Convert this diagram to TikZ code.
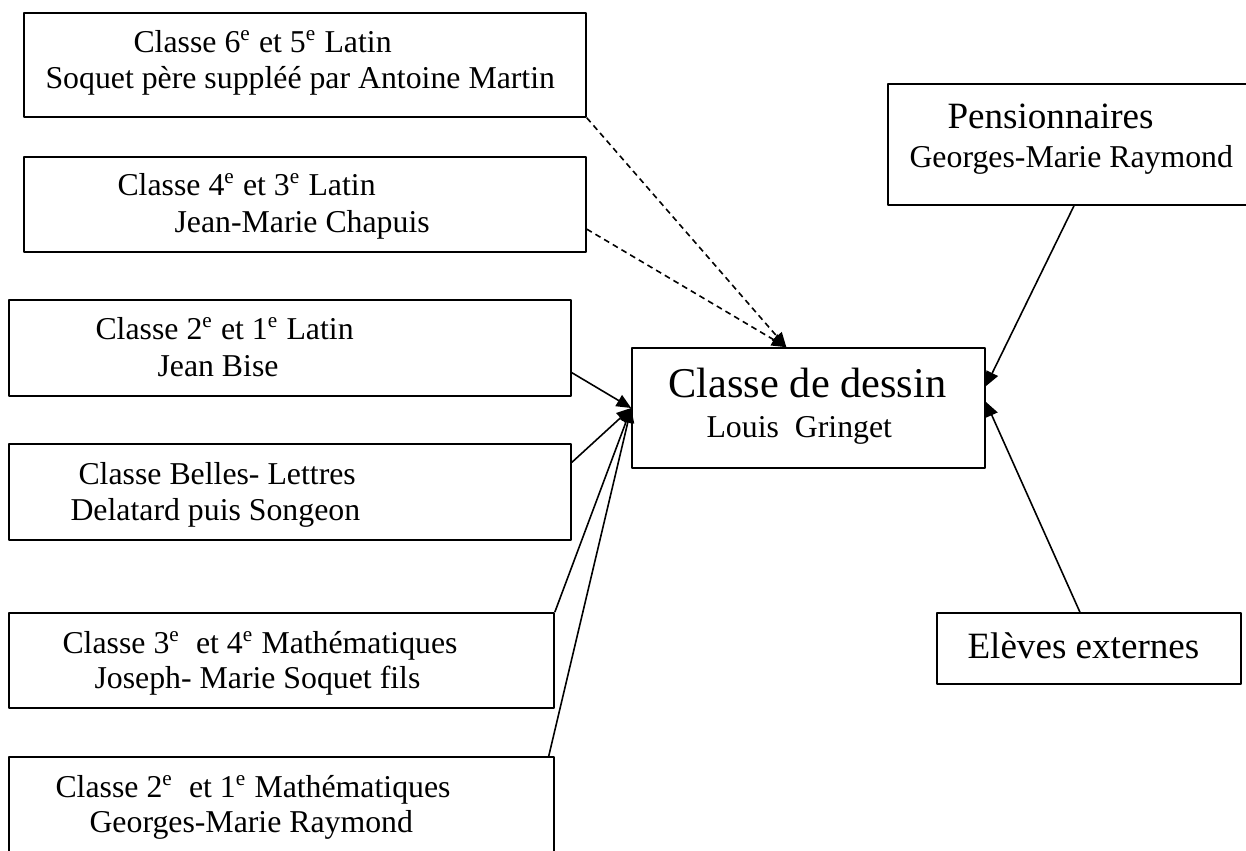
\documentclass[tikz,border=0pt]{standalone}
\usepackage{fontspec}
\setmainfont{Liberation Serif}
\usetikzlibrary{arrows.meta,positioning,fit}
\newcommand \mybox[5]
{
\node[draw, line width=0.6pt, inner sep=0pt, fit={(#2,#3) (#4,#5)}] (#1) {};
}
\newcommand \mytext[4]
{
\node[anchor=base west, inner sep=0pt] (#1) at (#2,#3) {#4};
}
\newcommand \myE {\textsuperscript{e}}

\begin{document}
\begin{tikzpicture}[x=0.3774pt, y=-0.3774pt, line join=round,
  every node/.style={font=\fontsize{12}{14}\selectfont},
  >={Triangle[length=5.5pt,width=4.8pt]}]
\useasboundingbox (0,0) rectangle (1246,850);
% boxes of the classes
\mybox{lat65}{24}{13}{586}{117}
\mybox{lat43}{24}{157}{586}{252}
\mybox{lat21}{9}{300}{571}{396}
\mybox{bl}{9}{444}{571}{540}
\mybox{math34}{9}{613}{554}{708}
\mybox{math21}{9}{757}{554}{870}
\mybox{dessin}{632}{348}{985}{468}
\mybox{pension}{888}{84}{1260}{205}
\mybox{externes}{937}{613}{1241}{684}
% texts
\mytext{lat65a}{133}{52}{Classe 6\myE{} et 5\myE{} Latin}
\mytext{lat65b}{45}{88}{Soquet père suppléé par Antoine Martin}
\mytext{lat43a}{117}{195}{Classe 4\myE{} et 3\myE{} Latin}
\mytext{lat43b}{174}{232}{Jean-Marie Chapuis}
\mytext{lat21a}{95}{339}{Classe 2\myE{} et 1\myE{} Latin}
\mytext{lat21b}{157}{376}{Jean Bise}
\mytext{bla}{78}{484}{Classe Belles- Lettres}
\mytext{blb}{70}{520}{Delatard puis Songeon}
\mytext{math34a}{62}{653}{Classe 3\myE{}\ \ et 4\myE{} Mathématiques}
\mytext{math34b}{94}{688}{Joseph- Marie Soquet fils}
\mytext{math21a}{55}{797}{Classe 2\myE{}\ \ et 1\myE{} Mathématiques}
\mytext{math21b}{89}{832}{Georges-Marie Raymond}
\mytext{dessina}{668}{397}{\fontsize{16}{19}\selectfont Classe de dessin}
\mytext{dessinb}{706}{437}{Louis\ \ Gringet}
\mytext{pensiona}{947}{128}{\fontsize{14}{17}\selectfont Pensionnaires}
\mytext{pensionb}{909}{167}{Georges-Marie Raymond}
\mytext{externesa}{967}{658}{\fontsize{14}{17}\selectfont Elèves externes}
% connectors
\draw[->, line width=0.6pt, dash pattern=on 2.2pt off 1.6pt] (lat65.south east) -- (dessin.110);
\draw[->, line width=0.6pt, dash pattern=on 2.2pt off 1.6pt] (lat43.-5.8) -- (dessin.110);
\draw[->, line width=0.6pt] (lat21.-5.7) -- (dessin.west);
\draw[->, line width=0.6pt] (bl.6.9) -- (dessin.west);
\draw[->, line width=0.6pt] (math34.north east) -- (dessin.west);
\draw[->, line width=0.6pt] ([xshift=-2.3pt]math21.north east) -- (dessin.west);
\draw[->, line width=0.6pt] (pension.south) -- (dessin.7.4);
\draw[->, line width=0.6pt] (externes.104) -- (dessin.2.9);
\end{tikzpicture}
\end{document}
